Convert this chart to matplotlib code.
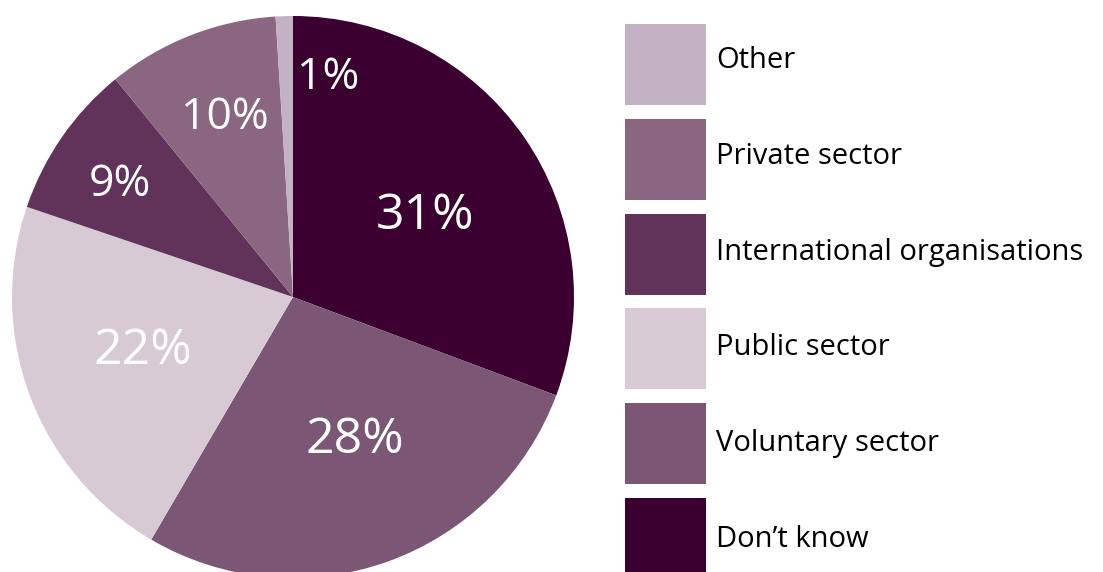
import numpy as np
import matplotlib
matplotlib.use("Agg")
from matplotlib import pyplot as plt
from matplotlib.patches import Rectangle

plt.rcParams['font.family'] = ['Open Sans', 'DejaVu Sans']

# slices, clockwise from 12 o'clock
labels = ["Don\u2019t know", "Voluntary sector", "Public sector",
          "International organisations", "Private sector", "Other"]
values = [31, 28, 22, 9, 10, 1]
colors = ["#3b0030", "#7b5675", "#d8cad5", "#61335a", "#8a6681", "#c3b2c3"]

# label placement (fraction of radius, angle shift in degrees)
label_r = [0.557, 0.545, 0.564, 0.739, 0.69, 0.80]
label_shift = [-2.3, 4.3, -1.7, 1.2, -0.9, -10.8]
label_size = [36, 36, 36, 32, 32, 32]

W, H = 1103, 572
fig = plt.figure(figsize=(W / 100, H / 100), dpi=100)
cx, cy, R = 293, 297, 281
ax = fig.add_axes([(cx - R) / W, (H - cy - R) / H, 2 * R / W, 2 * R / H])
wedges, _ = ax.pie(values, colors=colors, startangle=90, counterclock=False,
                   radius=1, wedgeprops=dict(linewidth=0))
ax.set_xlim(-1, 1)
ax.set_ylim(-1, 1)
ax.set_aspect('equal')
ax.axis('off')

for w, v, r, s, fs in zip(wedges, values, label_r, label_shift, label_size):
    ang = np.deg2rad((w.theta1 + w.theta2) / 2 + s)
    ax.text(r * np.cos(ang), r * np.sin(ang) - 0.01, f"{v}%", color="white",
            fontsize=fs, ha="center", va="center")

# legend: boxes stacked top to bottom, reverse of pie order
box_x, box_w, box_h, step, top = 625, 81, 81, 94.8, 24
for i, (lab, col) in enumerate(zip(labels[::-1], colors[::-1])):
    y0 = top + i * step
    fig.patches.append(Rectangle((box_x / W, 1 - (y0 + box_h) / H), box_w / W, box_h / H,
                                 transform=fig.transFigure, facecolor=col, edgecolor="none"))
    fig.text(716 / W, 1 - (y0 + box_h / 2 - 4 + i) / H, lab, fontsize=21,
             color="black", ha="left", va="center")

fig.savefig("out.png", dpi=100, facecolor="white")
